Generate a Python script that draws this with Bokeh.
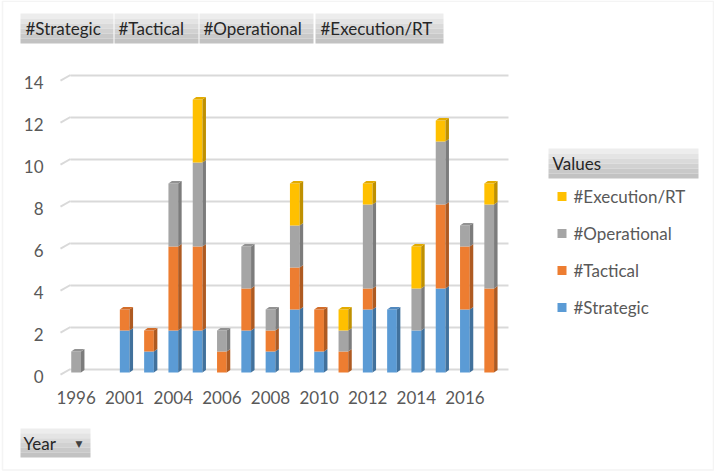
import numpy as np
from bokeh.plotting import figure
from bokeh.models import (ColumnDataSource, Range1d, FixedTicker, Grid, Label,
                          BoxAnnotation, LinearAxis)
from bokeh.embed import file_html
from bokeh.resources import INLINE

# ---------------- data ----------------
years = ["1996", "2000", "2001", "2002", "2004", "2005", "2006", "2007", "2008",
         "2009", "2010", "2011", "2012", "2013", "2014", "2015", "2016", "2017"]
shown_years = ["1996", "2001", "2004", "2006", "2008", "2010", "2012", "2014", "2016"]
strategic   = [0, 0, 2, 1, 2, 2, 0, 2, 1, 3, 1, 0, 3, 3, 2, 4, 3, 0]
tactical    = [0, 0, 1, 1, 4, 4, 1, 2, 1, 2, 2, 1, 1, 0, 0, 4, 3, 4]
operational = [1, 0, 0, 0, 3, 4, 1, 2, 1, 2, 0, 1, 4, 0, 2, 3, 1, 4]
execution   = [0, 0, 0, 0, 0, 3, 0, 0, 0, 2, 0, 1, 1, 0, 2, 1, 0, 1]
series_names = ["#Strategic", "#Tactical", "#Operational", "#Execution/RT"]
y_ticks = [0, 2, 4, 6, 8, 10, 12, 14]

# ---------------- style ----------------
FONT = "Lato"
front_colors = ["#5B9BD5", "#ED7D31", "#A5A5A5", "#FFC000"]
side_colors = ["#41719C", "#AE5A21", "#7C7C7C", "#BF9000"]
top_colors = ["#5088BE", "#D26D2A", "#929292", "#E3AB00"]
TICK_COLOR = "#595959"
GRID_COLOR = "#D9D9D9"

W, H = 714, 471
FL, FR, FT, FB = 0, 714, 0, 471         # frame covers the whole canvas
slot_px, unit_px = 24.3, 21.0
x0_px = 75.6                            # centre of first category
zero_px = 372.0                         # value 0
grid_left_px, grid_right_px = 70.0, 508.0
wall_px = 60.0

x_start = (FL - x0_px) / slot_px
x_end = (FR - x0_px) / slot_px
y_start = (zero_px - FB) / unit_px
y_end = (zero_px - FT) / unit_px

dx = 3.5 / slot_px      # 3D depth
dy = 2.5 / unit_px
dgrid = 3.5 / unit_px   # back-wall offset of the grid
half = 0.2

p = figure(width=W, height=H, x_range=Range1d(x_start, x_end),
           y_range=Range1d(y_start, y_end), output_backend="svg",
           toolbar_location=None, y_axis_location=None, title=None,
           min_border_left=FL, min_border_right=W - FR,
           min_border_top=FT, min_border_bottom=H - FB)
p.outline_line_color = None
p.background_fill_color = "white"
p.border_fill_color = "white"
for g in list(p.xgrid) + list(p.ygrid):
    g.visible = False

p.extra_y_ranges = {"grid": Range1d(y_start - dgrid, y_end - dgrid),
                    "ylab": Range1d(y_start + 0.19, y_end + 0.19)}

gx_wall = (wall_px - x0_px) / slot_px
gx0 = (grid_left_px - x0_px) / slot_px
gx1 = (grid_right_px - x0_px) / slot_px
tick_arr = np.array(y_ticks, dtype=float)
if "cross_bounds" in Grid.properties():
    grid = Grid(dimension=1, ticker=FixedTicker(ticks=y_ticks), y_range_name="grid",
                grid_line_color=GRID_COLOR, grid_line_width=2, cross_bounds=(gx0, gx1))
    p.add_layout(grid)
else:
    p.segment(x0=[gx0] * len(y_ticks), y0=list(tick_arr + dgrid),
              x1=[gx1] * len(y_ticks), y1=list(tick_arr + dgrid),
              line_color=GRID_COLOR, line_width=2)
# short slanted side-wall segments at the left end of every grid line
p.segment(x0=[gx_wall] * len(y_ticks), y0=list(tick_arr - 0.1),
          x1=[gx0] * len(y_ticks), y1=list(tick_arr + dgrid),
          line_color=GRID_COLOR, line_width=2)

# axes (labels pulled into the frame with negative standoffs)
xa = p.xaxis[0]
xa.ticker = FixedTicker(ticks=[i for i, y in enumerate(years) if y in shown_years])
xa.major_label_overrides = {i: y for i, y in enumerate(years) if y in shown_years}
ya = LinearAxis(y_range_name="ylab", ticker=FixedTicker(ticks=y_ticks))
p.add_layout(ya, "left")
for ax, standoff in ((xa, -81), (ya, -43)):
    ax.axis_line_color = None
    ax.major_tick_line_color = None
    ax.minor_tick_line_color = None
    ax.major_tick_out = 0
    ax.major_tick_in = 0
    ax.major_label_standoff = standoff
    ax.major_label_text_font = FONT
    ax.major_label_text_font_size = "17px"
    ax.major_label_text_color = TICK_COLOR

# ---------------- bars ----------------
idx = np.arange(len(years), dtype=float)
keys = ["strategic", "tactical", "operational", "execution"]
vals = np.array([strategic, tactical, operational, execution], dtype=float)
source = ColumnDataSource(dict(x=idx, strategic=strategic, tactical=tactical,
                               operational=operational, execution=execution))
p.vbar_stack(keys, x="x", width=2 * half, fill_color=front_colors,
             line_color=None, source=source)

cum = np.cumsum(vals, axis=0)
bottoms = cum - vals
sxs, sys_, scol = [], [], []
for s in range(vals.shape[0]):
    for i in range(len(years)):
        if vals[s, i] <= 0:
            continue
        xr = idx[i] + half
        b, t = bottoms[s, i], cum[s, i]
        sxs.append([xr, xr + dx, xr + dx, xr])
        sys_.append([b, b + dy, t + dy, t])
        scol.append(side_colors[s])
for i in range(len(years)):
    nz = [s for s in range(vals.shape[0]) if vals[s, i] > 0]
    if not nz:
        continue
    s = nz[-1]
    xl, xr = idx[i] - half, idx[i] + half
    t = cum[s, i]
    sxs.append([xl, xl + dx, xr + dx, xr])
    sys_.append([t, t + dy, t + dy, t])
    scol.append(top_colors[s])
p.patches(xs=sxs, ys=sys_, fill_color=scol, line_color=None)


# ---------------- buttons and legend (screen units, inside the frame) ----------------
def sx(px):
    return px - FL


def sy(py):
    return FB - py


grad = ["#EDEDED", "#E4E4E4", "#DADADA", "#D1D1D1", "#C9C9C9", "#C2C2C2"]


def box(x0, x1, y0, y1, color):
    p.add_layout(BoxAnnotation(left=sx(x0), right=sx(x1), top=sy(y0), bottom=sy(y1),
                               left_units="screen", right_units="screen",
                               top_units="screen", bottom_units="screen",
                               fill_color=color, fill_alpha=1.0, line_color=None))


def button(x0, x1, y0, y1):
    n = len(grad)
    h = (y1 - y0) / n
    for k, c in enumerate(grad):
        box(x0, x1, y0 + k * h, y0 + (k + 1) * h, c)


def label(x, y, text, color="#262626", size="17px", font=FONT, align="left"):
    p.add_layout(Label(x=sx(x), y=sy(y), x_units="screen", y_units="screen",
                       text=text, text_font=font, text_font_size=size,
                       text_color=color, text_baseline="middle", text_align=align))


# chart-area border
p.add_layout(BoxAnnotation(left=sx(2), right=sx(713), top=sy(0.75), bottom=sy(469.5),
                           left_units="screen", right_units="screen",
                           top_units="screen", bottom_units="screen",
                           fill_alpha=0.0, line_color="#D9D9D9", line_width=1.5))

# field buttons on top
btn_x = [(20, 113), (114, 198), (199, 313), (315, 443)]
btn_tx = [25, 118, 203, 320]
for (a, b), tx, name in zip(btn_x, btn_tx, series_names):
    button(a, b, 13, 43)
    label(tx, 28, name)

# legend on the right
button(548, 698, 148, 178)
label(552, 163, "Values")
leg_y = [196, 233, 270, 307]
for s, yy in zip([3, 2, 1, 0], leg_y):
    box(557, 566, yy - 4.5, yy + 4.5, front_colors[s])
    label(573, yy, series_names[s], color=TICK_COLOR)

# Year field button
button(20, 90, 428, 457)
label(23, 443, "Year")
label(78.5, 443, "▼", color="#404040", size="9px", font="DejaVu Sans", align="center")

open("out.html", "w").write(file_html(p, INLINE))
